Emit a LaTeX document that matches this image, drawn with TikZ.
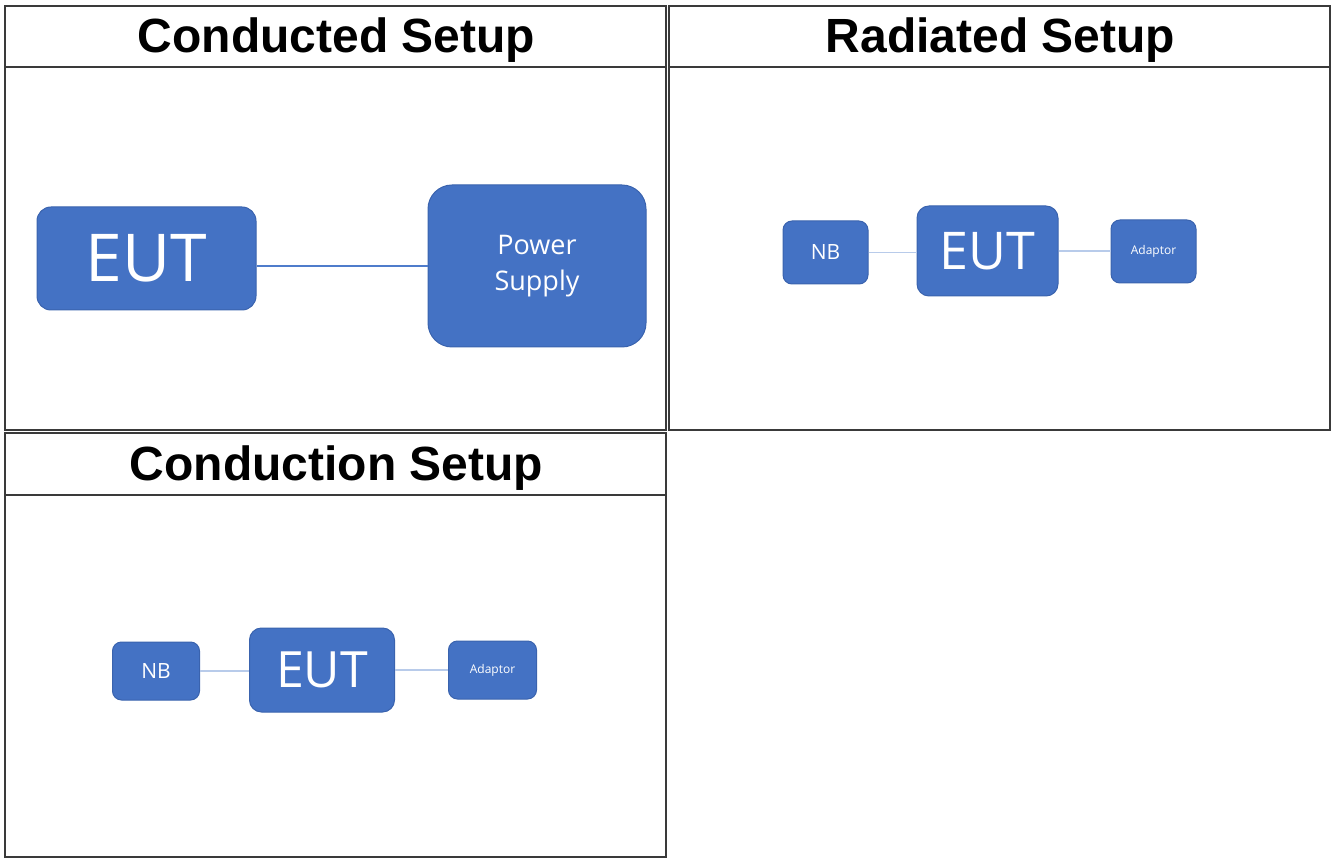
\documentclass[tikz,border=0pt]{standalone}
\usepackage{fontspec}
\setmainfont{Open Sans}
\newfontfamily\headfont{Liberation Sans}
\usetikzlibrary{calc,positioning}
\definecolor{boxblue}{HTML}{4472C4}
\definecolor{boxedge}{HTML}{3A63AE}
\definecolor{wiredark}{HTML}{4F7CCB}
\definecolor{wirelight}{HTML}{B8CBEA}
\definecolor{framegray}{HTML}{3A3A3A}

\begin{document}
\begin{tikzpicture}[x=1pt,y=-1pt,
	panelframe/.style={draw=framegray,line width=2pt},
	paneltitle/.style={anchor=base,font=\headfont\bfseries\fontsize{48}{48}\selectfont},
	devbox/.style={draw=boxedge,line width=1pt,fill=boxblue,text=white,inner sep=0pt,align=center},
	wire/.style={draw=wirelight,line width=1.5pt}]
	\useasboundingbox (0,0) rectangle (1331,858);

	% panels
	\draw[panelframe] (5,6) rectangle (666,430);
	\draw[panelframe] (5,67) -- (666,67);
	\draw[panelframe] (669,6) rectangle (1330,430);
	\draw[panelframe] (669,67) -- (1330,67);
	\draw[panelframe] (5,433) rectangle (666,857);
	\draw[panelframe] (5,495) -- (666,495);

	\node[paneltitle] (tA) at (336.5,53) {Conducted Setup};
	\node[paneltitle] (tB) at (1000.5,53) {Radiated Setup};
	\node[paneltitle] (tC) at (336.5,480) {Conduction Setup};

	% conducted setup
	\node[devbox,minimum width=219pt,minimum height=103pt,rounded corners=14pt,
		font=\fontsize{66}{66}\selectfont] (eutA) at (146.5,258.5) {EUT};
	\node[devbox,minimum width=218pt,minimum height=162pt,rounded corners=24pt,
		font=\fontsize{27}{36}\selectfont] (psuA) at (537,266) {Power\\Supply};
	\draw[draw=wiredark,line width=1.5pt] (psuA.west -| eutA.east) -- (psuA.west);

	% radiated setup
	\node[devbox,minimum width=141pt,minimum height=90pt,rounded corners=12pt,
		font=\fontsize{52}{52}\selectfont] (eutB) at (987.5,251) {EUT};
	\node[devbox,minimum width=85pt,minimum height=63pt,rounded corners=9pt,
		font=\fontsize{21}{21}\selectfont] (nbB) at (825.5,252.5) {NB};
	\node[devbox,minimum width=85pt,minimum height=63pt,rounded corners=9pt,
		font=\fontsize{12}{12}\selectfont] (adB) at (1153.5,251.5) {Adaptor};
	\draw[wire] (nbB.east) -- (nbB.east -| eutB.west);
	\draw[wire] (eutB.east) -- (eutB.east -| adB.west);

	% conduction setup
	\node[devbox,minimum width=145pt,minimum height=84pt,rounded corners=12pt,
		font=\fontsize{50}{50}\selectfont] (eutC) at (322,670) {EUT};
	\node[devbox,minimum width=87pt,minimum height=58pt,rounded corners=9pt,
		font=\fontsize{21}{21}\selectfont] (nbC) at (156,671) {NB};
	\node[devbox,minimum width=88pt,minimum height=58pt,rounded corners=9pt,
		font=\fontsize{12}{12}\selectfont] (adC) at (492.5,670) {Adaptor};
	\draw[wire] (nbC.east) -- (nbC.east -| eutC.west);
	\draw[wire] (eutC.east) -- (eutC.east -| adC.west);
\end{tikzpicture}
\end{document}
